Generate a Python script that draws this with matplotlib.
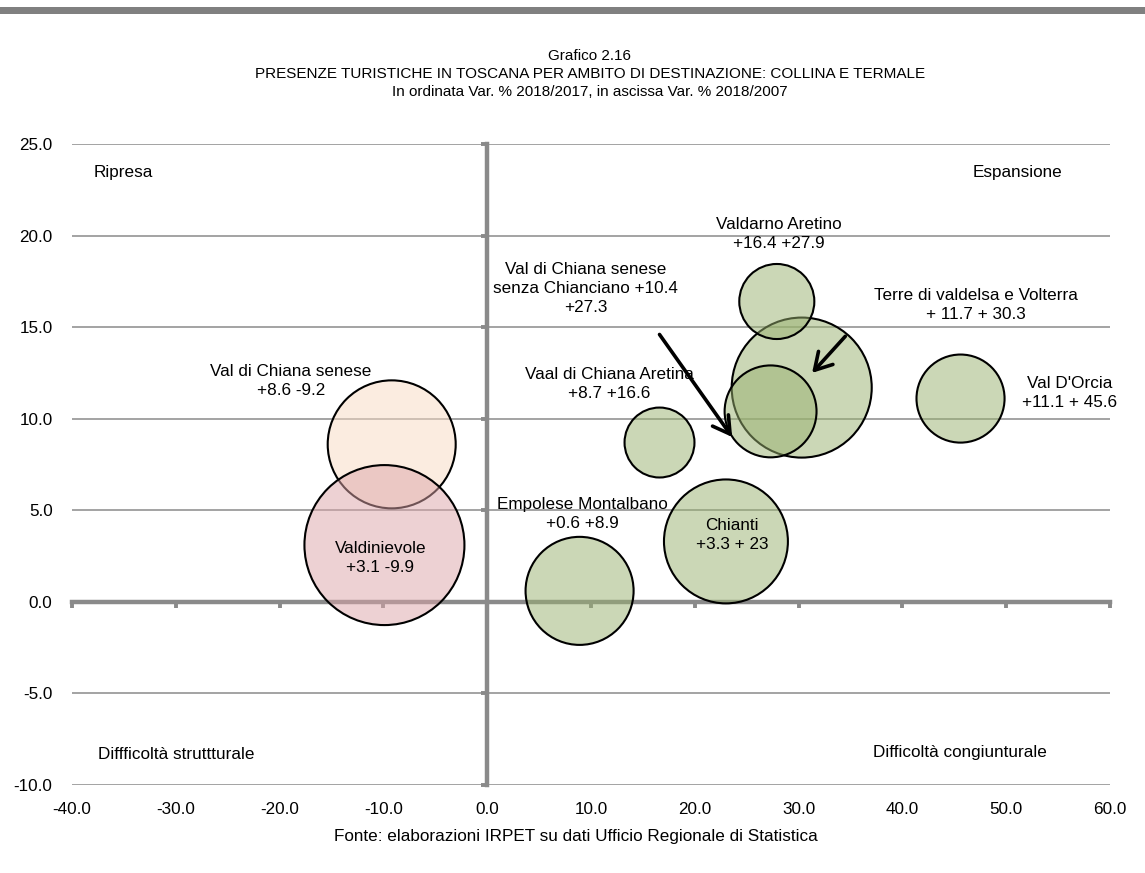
import matplotlib
matplotlib.use('Agg')
import matplotlib.pyplot as plt
from matplotlib.colors import to_rgba
from matplotlib.patches import Rectangle

plt.rcParams['font.family'] = ['Liberation Sans', 'DejaVu Sans']
plt.rcParams['axes.unicode_minus'] = False

# ambiti: ascissa = var. % 2018/2007, ordinata = var. % 2018/2017
ambiti = ["Val di Chiana senese", "Valdinievole", "Empolese Montalbano", "Vaal di Chiana Aretina",
          "Chianti", "Terre di valdelsa e Volterra", "Val di Chiana senese senza Chianciano",
          "Valdarno Aretino", "Val D'Orcia"]
var_2018_2007 = [-9.2, -9.9, 8.9, 16.6, 23.0, 30.3, 27.3, 27.9, 45.6]
var_2018_2017 = [8.6, 3.1, 0.6, 8.7, 3.3, 11.7, 10.4, 16.4, 11.1]
dimensione = [64.0, 100.0, 45.6, 19.1, 60.0, 76.6, 33.0, 22.0, 30.3]
colori = ["#f9dbc3", "#dda5a9", "#99b16f", "#99b16f", "#99b16f", "#99b16f", "#99b16f", "#99b16f", "#99b16f"]

etichette = ["Val di Chiana senese\n+8.6 -9.2", "Valdinievole\n+3.1 -9.9", "Empolese Montalbano\n+0.6 +8.9",
             "Vaal di Chiana Aretina\n+8.7 +16.6", "Chianti\n+3.3 + 23",
             "Terre di valdelsa e Volterra\n+ 11.7 + 30.3",
             "Val di Chiana senese\nsenza Chianciano +10.4\n+27.3",
             "Valdarno Aretino\n+16.4 +27.9", "Val D'Orcia\n+11.1 + 45.6"]
etich_x = [-18.9, -10.3, 9.15, 11.75, 23.6, 47.1, 9.5, 28.1, 56.1]
etich_y = [12.06, 2.4, 4.8, 11.9, 3.66, 16.2, 17.1, 20.1, 11.4]

x_ticks = [-40, -30, -20, -10, 0, 10, 20, 30, 40, 50, 60]
y_ticks = [-10, -5, 0, 5, 10, 15, 20, 25]

GRIGIO = "#8a8a8a"
FS = 12.3

fig = plt.figure(figsize=(11.45, 8.73), dpi=100)
ax = fig.add_axes([72 / 1145, 1 - 785 / 873, (1110 - 72) / 1145, (785 - 144) / 873])
ax.set_xlim(-40, 60)
ax.set_ylim(-10, 25)

# assi incrociati sullo zero
ax.spines['top'].set_visible(False)
ax.spines['right'].set_visible(False)
for s in ('left', 'bottom'):
    ax.spines[s].set_position(('data', 0))
    ax.spines[s].set_color(GRIGIO)
    ax.spines[s].set_linewidth(3.2)
ax.set_xticks(x_ticks)
ax.set_yticks(y_ticks)
ax.tick_params(axis='both', direction='out', length=4.5, width=2.8, color=GRIGIO,
               labelbottom=False, labelleft=False)
ax.yaxis.grid(True, color=GRIGIO, linewidth=1.1)
ax.set_axisbelow(True)

# etichette dei tick sul bordo dell'area
secx = ax.secondary_xaxis('bottom')
secx.set_xticks(x_ticks)
secx.set_xticklabels([f"{v:.1f}" for v in x_ticks])
secx.tick_params(length=0, pad=12, labelsize=FS)
secx.spines['bottom'].set_visible(False)
secy = ax.secondary_yaxis('left')
secy.set_yticks(y_ticks)
secy.set_yticklabels([f"{v:.1f}" for v in y_ticks])
secy.tick_params(length=0, pad=14, labelsize=FS)
secy.spines['left'].set_visible(False)

# bolle
facce = [to_rgba(c, 0.5) for c in colori]
ax.scatter(var_2018_2007, var_2018_2017, s=[d * 132.7 for d in dimensione],
           facecolors=facce, edgecolors='black', linewidths=1.5, zorder=3, clip_on=False)

for testo, tx, ty in zip(etichette, etich_x, etich_y):
    ax.text(tx, ty, testo, ha='center', va='center', multialignment='center',
            fontsize=FS, linespacing=1.33, zorder=5)

# frecce verso le bolle sovrapposte
freccia = dict(arrowstyle='->,head_length=0.6,head_width=0.35', color='black', lw=2.6,
               mutation_scale=20, shrinkA=0, shrinkB=0)
ax.annotate('', xy=(23.6, 9.0), xytext=(16.6, 14.6), arrowprops=freccia, zorder=6)
ax.annotate('', xy=(31.3, 12.5), xytext=(34.5, 14.5), arrowprops=freccia, zorder=6)

# quadranti
ax.text(-37.95, 23.47, "Ripresa", ha='left', va='center', fontsize=FS)
ax.text(46.8, 23.42, "Espansione", ha='left', va='center', fontsize=FS)
ax.text(-37.5, -8.35, "Diffficoltà struttturale", ha='left', va='center', fontsize=FS)
ax.text(37.2, -8.2, "Difficoltà congiunturale", ha='left', va='center', fontsize=FS)

# barra superiore, titolo e fonte
fig.patches.append(Rectangle((0, 1 - 13.5 / 873), 1, 7 / 873, transform=fig.transFigure,
                             facecolor='#808080', edgecolor='none'))
fig.text(0.515, 1 - 74 / 873,
         "Grafico 2.16\nPRESENZE TURISTICHE IN TOSCANA PER AMBITO DI DESTINAZIONE: COLLINA E TERMALE\n"
         "In ordinata Var. % 2018/2017, in ascissa Var. % 2018/2007",
         ha='center', va='center', multialignment='center', fontsize=11, linespacing=1.35)
fig.text(0.503, 1 - 837 / 873, "Fonte: elaborazioni IRPET su dati Ufficio Regionale di Statistica",
         ha='center', va='center', fontsize=FS)

fig.savefig("out.png", dpi=100, facecolor="white")
